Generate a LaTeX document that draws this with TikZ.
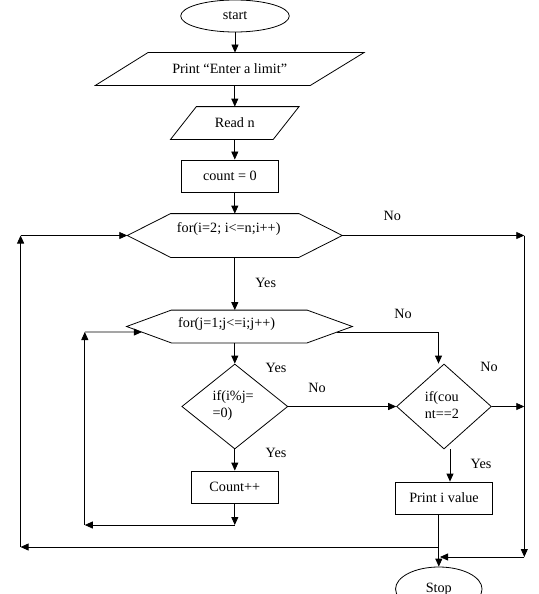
\documentclass[tikz,border=0pt]{standalone}
\usepackage{fontspec}
\setmainfont{Liberation Serif}
\usetikzlibrary{arrows.meta,shapes.geometric,calc}
\begin{document}
\begin{tikzpicture}[x=1pt,y=-1pt,
  line width=0.8pt,
  every node/.style={font=\fontsize{14.2}{17}\selectfont, inner sep=0pt},
  arr/.style={-{Triangle[length=8pt,width=7pt]}},
  frame/.style={draw=none, rectangle},
  boxnode/.style={draw, rectangle},
  term/.style={draw, ellipse},
  dec/.style={draw, diamond},
  lbl/.style={}]
\useasboundingbox (0,0) rectangle (538,594);
\clip (0,0) rectangle (538,594);

% nodes
\node[term, minimum width=108.6, minimum height=32] (start) at (235,16) {start};
\node[frame, minimum width=267.8, minimum height=32] (p1) at (229.7,69) {Print “Enter a limit”};
\draw ([xshift=52.5pt]p1.north west) -- (p1.north east) -- ([xshift=-53.6pt]p1.south east) -- (p1.south west) -- cycle;
\node[frame, minimum width=127.7, minimum height=32] (rd) at (234.8,123) {Read n};
\draw ([xshift=25.8pt]rd.north west) -- (rd.north east) -- ([xshift=-25.8pt]rd.south east) -- (rd.south west) -- cycle;
\node[boxnode, minimum width=96.3, minimum height=32.5] (cnt) at (229.9,176.2) {count = 0};

\node[frame, minimum width=214.2, minimum height=43] (h1) at (234.8,235.5) {};
\draw (h1.west) -- ([xshift=43.3pt]h1.north west) -- ([xshift=-43.3pt]h1.north east) -- (h1.east) -- ([xshift=-43.3pt]h1.south east) -- ([xshift=43.3pt]h1.south west) -- cycle;
\node (h1t) at (228.7,229) {for(i=2; i<=n;i++)};

\node[frame, minimum width=225, minimum height=32] (h2) at (239.5,326.5) {};
\draw (h2.west) -- ([xshift=44.7pt]h2.north west) -- ([xshift=-45.3pt]h2.north east) -- (h2.east) -- ([xshift=-45.3pt]h2.south east) -- ([xshift=44.7pt]h2.south west) -- cycle;
\node (h2t) at (226.6,324) {for(j=1;j<=i;j++)};

\node[dec, minimum width=106, minimum height=85] (d1) at (234.8,406.5) {};
\node[align=left, anchor=west] (d1t) at (212.2,406) {if(i\%j=\\=0)};
\node[dec, minimum width=94.8, minimum height=85] (d2) at (444,406.5) {};
\node[align=left, anchor=west] (d2t) at (424.4,405) {if(cou\\nt==2};

\node[boxnode, minimum width=86.5, minimum height=32] (cpp) at (234.8,487) {Count++};
\node[boxnode, minimum width=96.8, minimum height=32] (pv) at (444,498) {Print i value};
\node[term, minimum width=86.5, minimum height=44] (stop) at (438.8,589) {Stop};

% helper coordinates
\coordinate (rt) at (524.3,235.5);
\coordinate (rb) at (524.3,557);
\coordinate (sj) at (440,557);
\coordinate (jb) at (438.8,547);
\coordinate (lb) at (20.6,547);
\coordinate (lt) at (20.6,235.5);
\coordinate (ib) at (234.8,525);
\coordinate (il) at (84.8,525);
\coordinate (it) at (84.8,332);
\coordinate (h2in) at ($(h2.west)!0.34!([xshift=44.7pt]h2.south west)$);
\coordinate (h2out) at ($(h2.east)!0.34!([xshift=-45.3pt]h2.south east)$);

% main flow
\draw[arr] (start) -- (start |- p1.north);
\draw[arr] (rd.north |- p1.south) -- (rd.north);
\draw[arr] (rd.south) -- (rd.south |- cnt.north);
\draw[arr] (h1.north |- cnt.south) -- (h1.north);
\draw[arr] (h1.south) -- (h1.south |- h2.north);
\draw[arr] (d1.north |- h2.south) -- (d1.north);
\draw[arr] (d1.south) -- (cpp.north);

% inner loop back
\draw[arr] (cpp.south) -- (ib);
\draw[arr] (ib) -- (il);
\draw[arr] (il) -- (it);
\draw[arr] (it) -- (h2in);

% inner loop exit
\draw[arr] (h2out) -| ([xshift=-5.5pt]d2.north);
\draw[arr] (d1.east) -- (d2.west);
\draw[arr] (d2.east) -- (d2.east -| rt);
\draw[arr] ([xshift=6pt]d2.south) -- ([xshift=6pt]d2.south |- pv.north);
\draw[arr] (stop.north |- pv.south) -- (stop.north);

% outer loop exit
\draw[arr] (h1.east) -- (rt);
\draw[arr] (rt) -- (rb);
\draw[arr] (rb) -- (sj);

% outer loop back
\draw[arr] (jb) -- (lb);
\draw[arr] (lb) -- (lt);
\draw[arr] (lt) -- (h1.west);

% labels
\node[lbl] (l1) at (392.4,216) {No};
\node[lbl] (l2) at (265.7,283) {Yes};
\node[lbl] (l3) at (403,314) {No};
\node[lbl] (l4) at (276,368) {Yes};
\node[lbl] (l5) at (317,388) {No};
\node[lbl] (l6) at (276,453) {Yes};
\node[lbl] (l7) at (489,367) {No};
\node[lbl] (l8) at (481,464) {Yes};
\end{tikzpicture}
\end{document}
